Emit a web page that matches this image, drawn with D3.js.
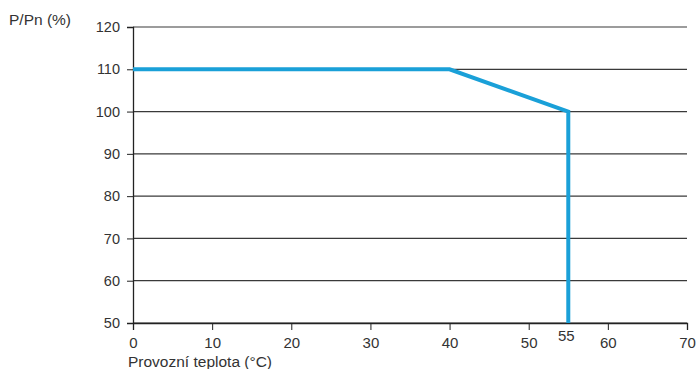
<!DOCTYPE html>
<html><head><meta charset="utf-8">
<script src="https://cdn.jsdelivr.net/npm/d3@7"></script>
<style>
html,body{margin:0;padding:0;background:#fff;}
svg{display:block;font-family:"Liberation Sans",Arial,sans-serif;}
</style></head>
<body><svg id="c" width="698" height="369"></svg>
<script>
const xTicks = [0, 10, 20, 30, 40, 50, 60, 70];
const yTicks = [50, 60, 70, 80, 90, 100, 110, 120];
const curveX = [0, 40, 55, 55];
const curveY = [110, 110, 100, 50];
const extraXTick = [55];
const xLabel = "Provozní teplota (°C)";
const yLabel = "P/Pn (%)";

const svg = d3.select("#c");
const x = d3.scaleLinear().domain([0, 70]).range([133, 687]);
const y = d3.scaleLinear().domain([50, 120]).range([323, 27]);
const ink = "#333";

// gridlines
svg.append("g").selectAll("line").data(yTicks).join("line")
  .attr("x1", x(0)).attr("x2", x(70))
  .attr("y1", d => y(d)).attr("y2", d => y(d))
  .attr("stroke", "#3a3a3a").attr("stroke-width", 1.2);

// y axis
const ya = svg.append("g").attr("transform", `translate(${x(0)},0)`)
  .call(d3.axisLeft(y).tickValues(yTicks).tickSize(6).tickPadding(7));
ya.select(".domain").attr("stroke", "#222").attr("stroke-width", 1.3);
ya.selectAll(".tick line").attr("stroke", "#222");
ya.selectAll("text").attr("font-size", 14.5).attr("fill", ink).attr("font-family", "Liberation Sans, Arial, sans-serif");

// x axis
const xa = svg.append("g").attr("transform", `translate(0,${y(50)})`)
  .call(d3.axisBottom(x).tickValues(xTicks).tickSize(7).tickPadding(7));
xa.select(".domain").attr("stroke", "#222").attr("stroke-width", 1.3);
xa.selectAll(".tick line").attr("stroke", "#222");
xa.selectAll("text").attr("font-size", 15).attr("fill", ink).attr("font-family", "Liberation Sans, Arial, sans-serif");

// extra label 55
svg.append("text").selectAll("tspan").data(extraXTick).join("tspan")
  .attr("x", d => x(d) - 2).attr("y", y(50) + 18)
  .attr("text-anchor", "middle").attr("font-size", 15).attr("fill", ink)
  .text(d => d);

// curve
const pts = curveX.map((d, i) => [d, curveY[i]]);
svg.append("path").datum(pts)
  .attr("d", d3.line().x(d => x(d[0])).y(d => y(d[1])))
  .attr("fill", "none").attr("stroke", "#1aa0d8").attr("stroke-width", 4)
  .attr("stroke-linejoin", "miter");

// labels
svg.append("text").attr("x", 9).attr("y", 25).attr("font-size", 15.5).attr("fill", ink).text(yLabel);
svg.append("text").attr("x", 128).attr("y", 367).attr("font-size", 15.5).attr("fill", ink).text(xLabel);
</script></body></html>
